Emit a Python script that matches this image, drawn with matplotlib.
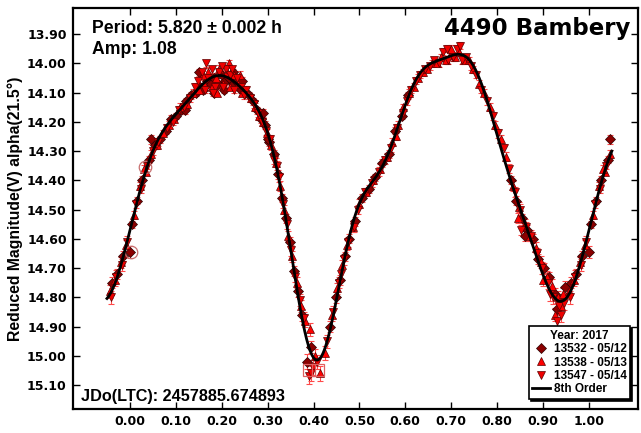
import numpy as np
import matplotlib
matplotlib.use("Agg")
import matplotlib.pyplot as plt
from matplotlib.lines import Line2D

# ---------------- data (phase in [0,1), reduced magnitude, error) ----------------
s13532_phase = [0.001, 0.004, 0.016, 0.027, 0.042, 0.047, 0.055, 0.066, 0.078, 0.090,
                0.101, 0.112, 0.122, 0.133, 0.143, 0.152, 0.160, 0.168, 0.176, 0.184,
                0.192, 0.200, 0.208, 0.216, 0.224, 0.232, 0.241, 0.250, 0.259, 0.268,
                0.277, 0.286, 0.295, 0.304, 0.313, 0.322, 0.331, 0.340, 0.349, 0.358,
                0.367, 0.376, 0.386, 0.395, 0.437, 0.448, 0.458, 0.468, 0.478, 0.490,
                0.505, 0.520, 0.535, 0.550, 0.565, 0.578, 0.592, 0.606, 0.830, 0.842,
                0.854, 0.866, 0.878, 0.890, 0.902, 0.914, 0.926, 0.938, 0.948, 0.960,
                0.972, 0.986,
                0.150, 0.205, 0.225, 0.245, 0.860, 0.930, 0.120, 0.290, 0.300, 0.183]
s13532_mag = [14.645, 14.55, 14.47, 14.40, 14.33, 14.26, 14.28, 14.26, 14.23, 14.19,
              14.18, 14.16, 14.13, 14.11, 14.10, 14.08, 14.09, 14.06, 14.07, 14.05,
              14.07, 14.04, 14.06, 14.05, 14.07, 14.06, 14.09, 14.10, 14.11, 14.13,
              14.16, 14.19, 14.21, 14.27, 14.31, 14.38, 14.46, 14.53, 14.61, 14.71,
              14.78, 14.86, 15.02, 14.97, 14.90, 14.80, 14.74, 14.66, 14.60, 14.54,
              14.46, 14.43, 14.39, 14.34, 14.31, 14.23, 14.18, 14.11, 14.40, 14.47,
              14.53, 14.57, 14.60, 14.67, 14.70, 14.73, 14.79, 14.81, 14.765, 14.75,
              14.72, 14.66,
              14.03, 14.09, 14.03, 14.06, 14.59, 14.84, 14.16, 14.17, 14.26, 14.10]
s13532_err = [0.020, 0.012, 0.012, 0.013, 0.012, 0.015, 0.012, 0.011, 0.012, 0.012,
              0.011, 0.012, 0.011, 0.012, 0.013, 0.012, 0.011, 0.012, 0.013, 0.012,
              0.011, 0.012, 0.013, 0.012, 0.011, 0.012, 0.013, 0.012, 0.012, 0.013,
              0.012, 0.013, 0.014, 0.013, 0.014, 0.015, 0.014, 0.015, 0.016, 0.017,
              0.018, 0.020, 0.025, 0.022, 0.020, 0.018, 0.017, 0.016, 0.015, 0.015,
              0.014, 0.014, 0.013, 0.013, 0.013, 0.013, 0.012, 0.012, 0.014, 0.015,
              0.015, 0.016, 0.016, 0.017, 0.018, 0.018, 0.020, 0.020, 0.020, 0.019,
              0.018, 0.017,
              0.012, 0.013, 0.012, 0.012, 0.017, 0.021, 0.012, 0.013, 0.014, 0.012]

s13538_phase = [0.008, 0.021, 0.035, 0.046, 0.058, 0.072, 0.085, 0.097, 0.110, 0.125,
                0.138, 0.150, 0.162, 0.171, 0.179, 0.187, 0.195, 0.203, 0.211, 0.219,
                0.227, 0.236, 0.245, 0.254, 0.263, 0.272, 0.281, 0.290, 0.299, 0.308,
                0.318, 0.327, 0.336, 0.345, 0.354, 0.363, 0.372, 0.381, 0.392, 0.404,
                0.415, 0.425, 0.452, 0.463, 0.474, 0.486, 0.500, 0.515, 0.530, 0.545,
                0.560, 0.572, 0.584, 0.596, 0.608, 0.618, 0.628, 0.638, 0.648, 0.658,
                0.668, 0.678, 0.688, 0.698, 0.708, 0.718, 0.728, 0.738, 0.748, 0.760,
                0.772, 0.784, 0.796, 0.808, 0.820, 0.835, 0.848, 0.860, 0.872, 0.884,
                0.896, 0.908, 0.920, 0.932, 0.944, 0.956, 0.968, 0.980, 0.992,
                0.160, 0.190, 0.215, 0.240, 0.900, 0.926, 0.940, 0.845, 0.700, 0.580,
                0.440, 0.030]
s13538_mag = [14.52, 14.42, 14.37, 14.31, 14.28, 14.24, 14.21, 14.19, 14.15, 14.14,
              14.10, 14.09, 14.07, 14.03, 14.08, 14.05, 14.02, 14.07, 14.03, 14.08,
              14.04, 14.07, 14.10, 14.09, 14.12, 14.15, 14.18, 14.20, 14.24, 14.28,
              14.34, 14.42, 14.50, 14.59, 14.66, 14.75, 14.83, 14.88, 14.91, 15.00,
              15.06, 14.99, 14.77, 14.69, 14.62, 14.56, 14.48, 14.44, 14.40, 14.36,
              14.32, 14.27, 14.21, 14.15, 14.10, 14.08, 14.05, 14.03, 14.02, 14.00,
              14.00, 13.98, 13.99, 13.97, 13.98, 13.96, 13.99, 13.99, 14.02, 14.07,
              14.10, 14.15, 14.21, 14.26, 14.32, 14.42, 14.49, 14.55, 14.59, 14.63,
              14.68, 14.73, 14.76, 14.80, 14.79, 14.78, 14.74, 14.68, 14.62,
              14.04, 14.10, 14.00, 14.04, 14.74, 14.86, 14.83, 14.53, 13.95, 14.25,
              14.86, 14.36]
s13538_err = [0.014, 0.013, 0.013, 0.013, 0.012, 0.013, 0.012, 0.012, 0.013, 0.012,
              0.013, 0.012, 0.012, 0.013, 0.012, 0.012, 0.013, 0.012, 0.013, 0.012,
              0.012, 0.013, 0.012, 0.013, 0.013, 0.014, 0.013, 0.014, 0.014, 0.015,
              0.015, 0.016, 0.016, 0.017, 0.018, 0.019, 0.020, 0.021, 0.022, 0.024,
              0.025, 0.024, 0.019, 0.018, 0.017, 0.016, 0.015, 0.015, 0.014, 0.014,
              0.013, 0.013, 0.013, 0.012, 0.012, 0.012, 0.012, 0.012, 0.011, 0.012,
              0.011, 0.012, 0.011, 0.012, 0.011, 0.012, 0.011, 0.012, 0.012, 0.012,
              0.013, 0.013, 0.014, 0.014, 0.015, 0.016, 0.017, 0.017, 0.018, 0.019,
              0.020, 0.020, 0.021, 0.022, 0.022, 0.021, 0.020, 0.019, 0.016,
              0.012, 0.013, 0.012, 0.012, 0.020, 0.022, 0.022, 0.017, 0.012, 0.013,
              0.020, 0.013]

s13547_phase = [0.013, 0.025, 0.038, 0.050, 0.062, 0.081, 0.094, 0.106, 0.118, 0.130,
                0.141, 0.149, 0.156, 0.163, 0.170, 0.178, 0.186, 0.194, 0.202, 0.210,
                0.218, 0.226, 0.234, 0.243, 0.252, 0.261, 0.270, 0.279, 0.288, 0.297,
                0.306, 0.315, 0.324, 0.333, 0.342, 0.351, 0.360, 0.370, 0.380, 0.390,
                0.398, 0.408, 0.430, 0.442, 0.455, 0.466, 0.476, 0.488, 0.498, 0.512,
                0.527, 0.542, 0.556, 0.569, 0.581, 0.594, 0.603, 0.613, 0.623, 0.633,
                0.643, 0.653, 0.663, 0.673, 0.683, 0.693, 0.703, 0.713, 0.723, 0.733,
                0.743, 0.755, 0.766, 0.778, 0.790, 0.802, 0.814, 0.826, 0.838, 0.850,
                0.862, 0.874, 0.886, 0.898, 0.910, 0.922, 0.934, 0.946, 0.958, 0.970,
                0.982, 0.994,
                0.165, 0.180, 0.200, 0.222, 0.248, 0.690, 0.720, 0.930, 0.940, 0.915,
                0.852, 0.395, 0.460, 0.320]
s13547_mag = [14.48, 14.43, 14.35, 14.30, 14.27, 14.22, 14.20, 14.16, 14.15, 14.12,
              14.08, 14.06, 14.03, 14.09, 14.05, 14.02, 14.08, 14.03, 14.08, 14.02,
              14.04, 14.09, 14.05, 14.08, 14.09, 14.12, 14.14, 14.17, 14.20, 14.23,
              14.26, 14.33, 14.39, 14.48, 14.55, 14.64, 14.73, 14.81, 14.87, 15.07,
              15.04, 15.02, 14.95, 14.85, 14.75, 14.67, 14.61, 14.56, 14.50, 14.44,
              14.41, 14.37, 14.33, 14.29, 14.22, 14.17, 14.13, 14.09, 14.06, 14.04,
              14.02, 14.01, 13.99, 14.00, 13.96, 13.99, 13.98, 13.95, 13.99, 13.98,
              14.01, 14.04, 14.09, 14.13, 14.18, 14.24, 14.29, 14.36, 14.44, 14.50,
              14.56, 14.59, 14.65, 14.70, 14.75, 14.80, 14.83, 14.82, 14.80, 14.73,
              14.69, 14.61,
              14.00, 14.10, 14.01, 14.02, 14.11, 13.95, 13.94, 14.88, 14.86, 14.79,
              14.57, 15.06, 14.72, 14.35]
s13547_err = [0.014, 0.014, 0.013, 0.013, 0.012, 0.012, 0.012, 0.013, 0.012, 0.012,
              0.013, 0.012, 0.012, 0.013, 0.012, 0.012, 0.013, 0.012, 0.012, 0.013,
              0.012, 0.013, 0.012, 0.013, 0.012, 0.013, 0.013, 0.014, 0.014, 0.014,
              0.015, 0.015, 0.016, 0.016, 0.017, 0.018, 0.019, 0.020, 0.021, 0.026,
              0.025, 0.024, 0.022, 0.020, 0.019, 0.018, 0.017, 0.016, 0.015, 0.015,
              0.014, 0.014, 0.013, 0.013, 0.013, 0.012, 0.012, 0.012, 0.012, 0.012,
              0.011, 0.012, 0.011, 0.012, 0.011, 0.012, 0.011, 0.012, 0.011, 0.012,
              0.012, 0.012, 0.013, 0.013, 0.014, 0.014, 0.015, 0.016, 0.017, 0.018,
              0.019, 0.019, 0.020, 0.021, 0.022, 0.023, 0.024, 0.024, 0.023, 0.022,
              0.021, 0.018,
              0.012, 0.013, 0.012, 0.012, 0.013, 0.012, 0.012, 0.024, 0.024, 0.022,
              0.017, 0.026, 0.018, 0.015]

# marked points (open circles / squares)
circle_phase = [0.0015, 0.032]
circle_mag = [14.645, 14.355]
square_phase = [0.390, 0.410]
square_mag = [15.05, 15.05]

session_labels = ["13532 - 05/12", "13538 - 05/13", "13547 - 05/14"]
legend_title = "Year: 2017"
fit_label = "8th Order"
fit_order = 8

x_ticks = [0.00, 0.10, 0.20, 0.30, 0.40, 0.50, 0.60, 0.70, 0.80, 0.90, 1.00]
y_ticks = [13.90, 14.00, 14.10, 14.20, 14.30, 14.40, 14.50, 14.60, 14.70,
           14.80, 14.90, 15.00, 15.10]

title_text = "4490 Bambery"
period_text = "Period: 5.820 \u00b1 0.002 h"
amp_text = "Amp: 1.08"
jd_text = "JDo(LTC): 2457885.674893"
ylabel_text = "Reduced Magnitude(V) alpha(21.5\u00b0)"

# ---------------- figure ----------------
W, H = 641, 433
fig = plt.figure(figsize=(W / 100, H / 100), dpi=100)
L, R, T, B = 73, 638, 8, 409
ax = fig.add_axes([L / W, 1 - B / H, (R - L) / W, (B - T) / H])

ARIAL = "Liberation Sans"
VERD = "DejaVu Sans"


def wrap(ph, mg, er):
    ph = np.asarray(ph, float)
    mg = np.asarray(mg, float)
    er = np.asarray(er, float)
    lo = ph < 0.05
    hi = ph > 0.95
    P = np.concatenate([ph, ph[lo] + 1.0, ph[hi] - 1.0])
    M = np.concatenate([mg, mg[lo], mg[hi]])
    E = np.concatenate([er, er[lo], er[hi]])
    return P, M, E


styles = [
    dict(marker="D", ms=4.6, mfc="#8b0000", mec="#2a0000"),
    dict(marker="^", ms=6.0, mfc="#ff0000", mec="#5a0000"),
    dict(marker="v", ms=6.0, mfc="#ee0000", mec="#5a0000"),
]
sessions = [
    (s13532_phase, s13532_mag, s13532_err),
    (s13538_phase, s13538_mag, s13538_err),
    (s13547_phase, s13547_mag, s13547_err),
]

for (ph, mg, er), st in zip(sessions, styles):
    P, M, E = wrap(ph, mg, er)
    ax.errorbar(P, M, yerr=E, fmt="none", ecolor="#ff4a4a", elinewidth=0.8,
                capsize=2.4, capthick=0.8, zorder=2)
for (ph, mg, er), st in zip(sessions, styles):
    P, M, E = wrap(ph, mg, er)
    ax.plot(P, M, ls="none", mew=0.5, zorder=3, **st)

# marked points
ax.plot(circle_phase, circle_mag, ls="none", marker="o", ms=9, mfc="none",
        mec="#c87070", mew=0.9, zorder=3.5)
ax.plot(square_phase, square_mag, ls="none", marker="s", ms=8, mfc="none",
        mec="#e06060", mew=0.9, zorder=3.5)

# 8th order Fourier fit through all sessions
allp = np.concatenate([np.asarray(s[0], float) for s in sessions])
allm = np.concatenate([np.asarray(s[1], float) for s in sessions])


def design(p):
    cols = [np.ones_like(p)]
    for k in range(1, fit_order + 1):
        cols.append(np.cos(2 * np.pi * k * p))
        cols.append(np.sin(2 * np.pi * k * p))
    return np.column_stack(cols)


coef, *_ = np.linalg.lstsq(design(allp), allm, rcond=None)
pp = np.linspace(-0.05, 1.05, 800)
ax.plot(pp, design(pp) @ coef, color="black", lw=2.0, zorder=4)

# axes
ax.set_xlim(-0.124, 1.107)
ax.set_ylim(15.182, 13.811)
ax.set_xticks(x_ticks)
ax.set_xticklabels([f"{v:.2f}" for v in x_ticks])
ax.set_yticks(y_ticks)
ax.set_yticklabels([f"{v:.2f}" for v in y_ticks])
ax.tick_params(axis="both", which="major", direction="in", length=5, width=1,
               top=True, right=True, labelsize=9, pad=4.5)
for lab in ax.get_xticklabels() + ax.get_yticklabels():
    lab.set_fontfamily(VERD)
    lab.set_fontweight("bold")
for sp in ax.spines.values():
    sp.set_linewidth(1.6)

ax.set_ylabel(ylabel_text, fontsize=11.3, fontweight="bold", family=ARIAL, labelpad=3)

# texts
ax.text(0.0336, 0.9377, period_text, transform=ax.transAxes, fontsize=12.7,
        fontweight="bold", family=ARIAL, va="baseline", ha="left")
ax.text(0.0336, 0.885, amp_text, transform=ax.transAxes, fontsize=12.7,
        fontweight="bold", family=ARIAL, va="baseline", ha="left")
ax.text(0.986, 0.9327, title_text, transform=ax.transAxes, fontsize=16.5,
        fontweight="bold", family=VERD, va="baseline", ha="right")
ax.text(0.014, 0.02, jd_text, transform=ax.transAxes, fontsize=11.7,
        fontweight="bold", family=ARIAL, va="baseline", ha="left")

# legend
handles = [Line2D([], [], ls="none", mew=0.5, **st) for st in styles]
handles.append(Line2D([], [], color="black", lw=2.0))
leg = ax.legend(handles, session_labels + [fit_label], title=legend_title,
                loc="lower right", bbox_to_anchor=(0.986, 0.025),
                prop={"family": ARIAL, "weight": "bold", "size": 8.5},
                title_fontproperties={"family": ARIAL, "weight": "bold", "size": 8.5},
                frameon=True, fancybox=False,
                shadow={"ox": 1.5, "oy": -1.5, "color": "black", "alpha": 1.0},
                framealpha=1, edgecolor="black", borderpad=0.3, labelspacing=0.12,
                handlelength=1.5, handletextpad=0.3, borderaxespad=0)
leg.get_frame().set_linewidth(1.2)
leg.set_zorder(10)

fig.savefig("out.png", dpi=100)
